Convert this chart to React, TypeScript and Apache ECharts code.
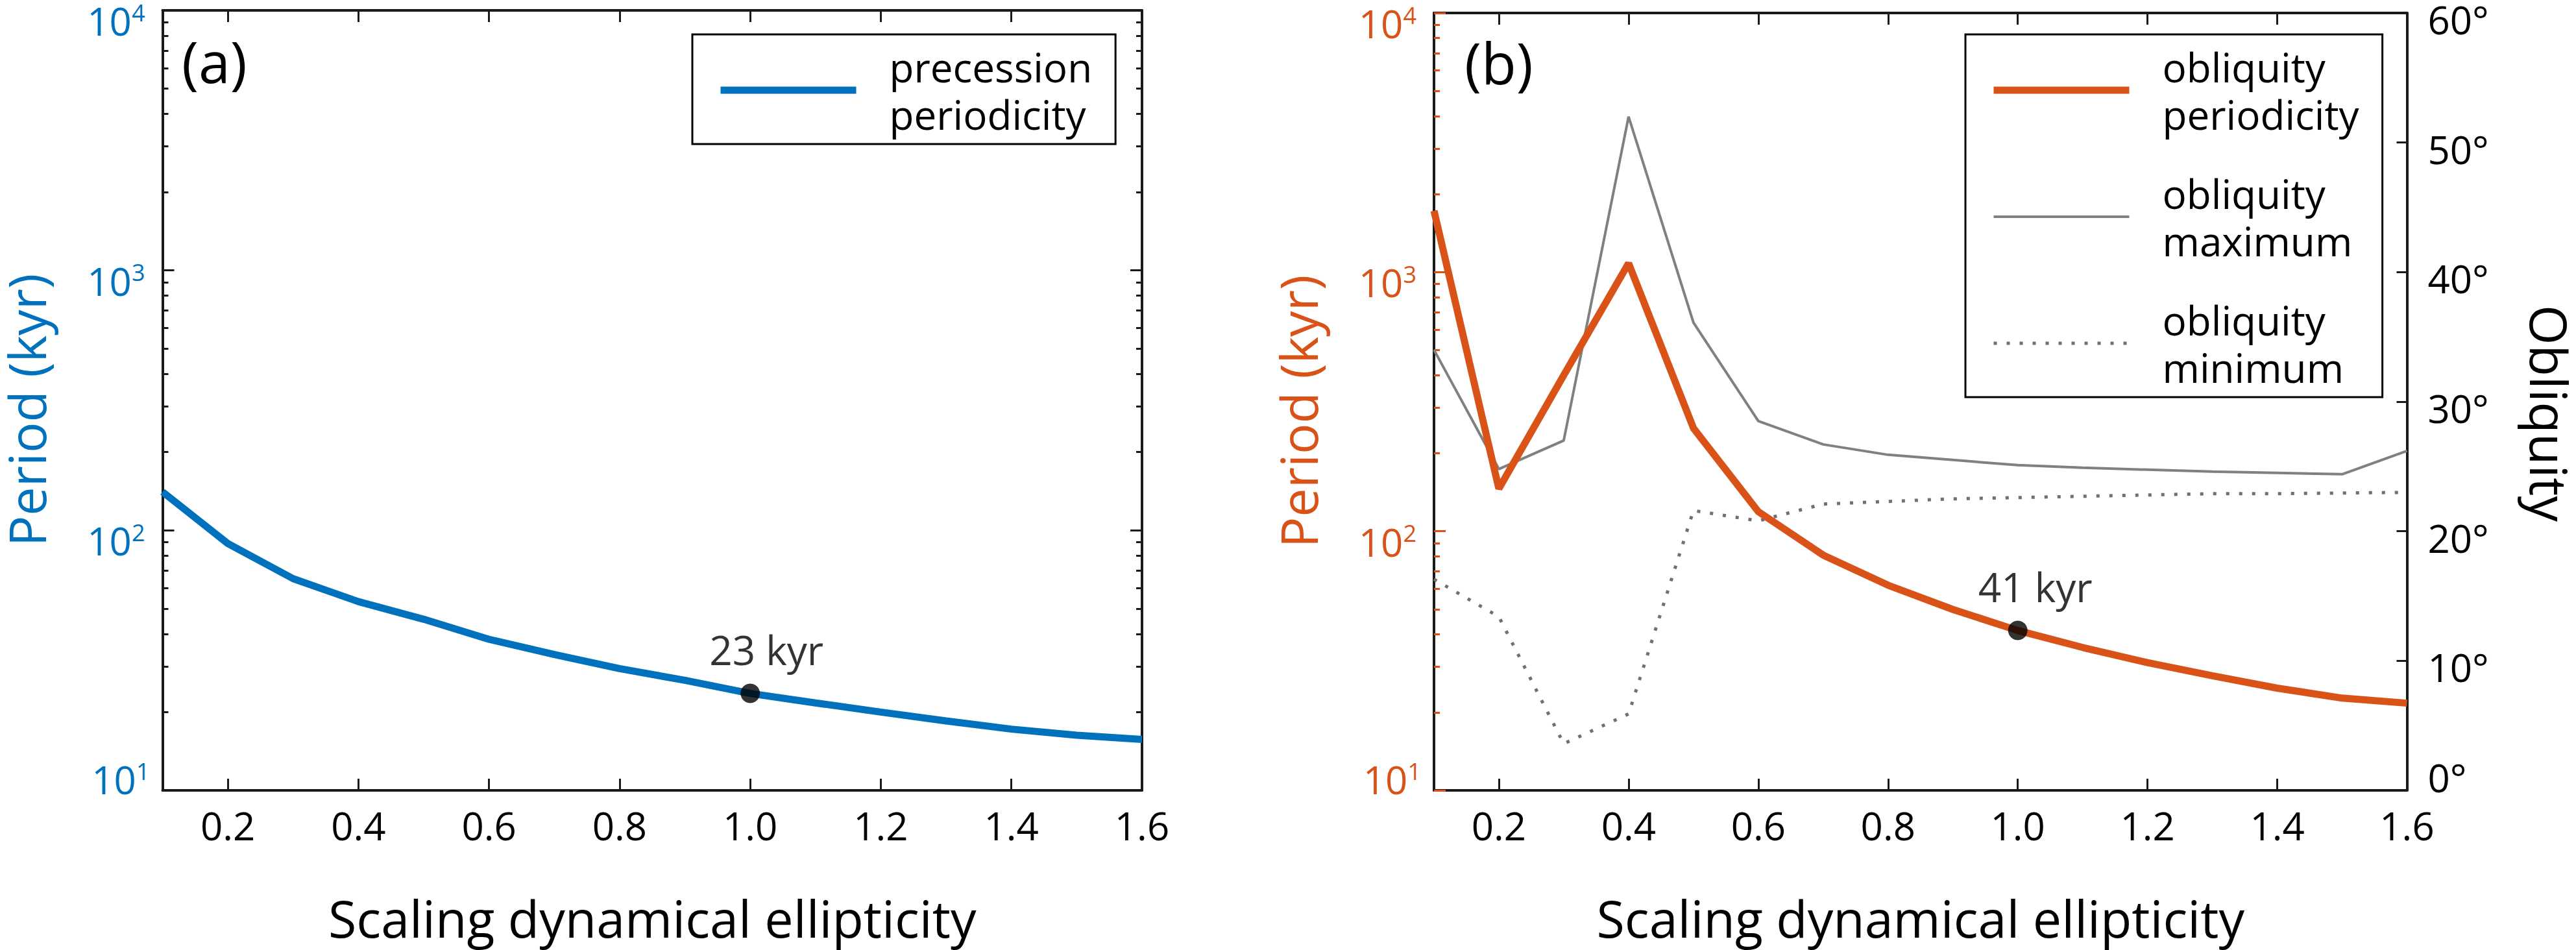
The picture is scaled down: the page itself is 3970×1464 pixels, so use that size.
import React, { useEffect, useRef } from 'react';
import * as echarts from 'echarts';

// ---- data ----
const ellipticity = [0.1, 0.2, 0.3, 0.4, 0.5, 0.6, 0.7, 0.8, 0.9, 1.0, 1.1, 1.2, 1.3, 1.4, 1.5, 1.6];
const precessionPeriod = [140.6, 89.0, 65.2, 53.2, 45.5, 38.1, 33.3, 29.4, 26.5, 23.6, 21.7, 20.0, 18.5, 17.2, 16.3, 15.7];
const obliquityPeriod = [1726, 146, 400, 1081, 250, 119, 80.9, 61.9, 49.9, 41.4, 35.6, 31.1, 27.7, 24.8, 22.7, 21.7];
const obliquityMax = [34.0, 24.8, 27.0, 52.0, 36.1, 28.5, 26.7, 25.9, 25.5, 25.1, 24.9, 24.75, 24.6, 24.5, 24.4, 26.2];
const obliquityMin = [16.3, 13.4, 3.6, 5.9, 21.6, 20.8, 22.1, 22.3, 22.5, 22.6, 22.7, 22.8, 22.9, 22.9, 22.95, 23.0];

const precessionMarker = [1.0, 23.6];
const obliquityMarker = [1.0, 41.4];
const markerTexts = ['23 kyr', '41 kyr'];

const xTicks = [0.2, 0.4, 0.6, 0.8, 1.0, 1.2, 1.4, 1.6];
const periodMajorTicks = [10, 100, 1000, 10000];
const periodMajorLabels = [100, 1000, 10000];
const periodBottomLabel = [10];
const periodMinorTicks = [20, 30, 40, 50, 60, 70, 80, 90, 200, 300, 400, 500, 600, 700, 800, 900, 2000, 3000, 4000, 5000, 6000, 7000, 8000, 9000];
const obliquityLabels = [10, 20, 30, 40, 50, 60];
const obliquityBottomLabel = [0];

const seriesNames = ['precession\nperiodicity', 'obliquity\nperiodicity', 'obliquity\nmaximum', 'obliquity\nminimum'];
const panelLabels = ['(a)', '(b)'];
const xName = 'Scaling dynamical ellipticity';
const yName = 'Period (kyr)';
const y2Name = 'Obliquity';

// ---- styles ----
const FONT = '"Open Sans", "Noto Sans", sans-serif';
const BLUE = '#0072BD';
const ORANGE = '#D95319';
const AXIS = '#1a1a1a';
const GRAY = '#808080';
const DOT = '#707070';

const pairs = (ys: number[]) => ellipticity.map((x, i) => [x, ys[i]]);

const powerLabel = (v: number) => `{b|10}{s|${Math.round(Math.log10(v))}}`;
const richPow = (color: string) => ({
  b: { fontSize: 60, lineHeight: 62, fontFamily: FONT, color },
  s: { fontSize: 36, verticalAlign: 'top', fontFamily: FONT, color },
});

function bottomX(gridIndex: number) {
  return {
    type: 'value', gridIndex, position: 'bottom', min: 0.1, max: 1.6,
    name: xName, nameLocation: 'middle', nameGap: 166,
    nameTextStyle: { fontSize: 79, lineHeight: 60, fontFamily: FONT, color: '#000' },
    axisLine: { show: true, onZero: false, lineStyle: { color: AXIS, width: 4 } },
    axisTick: { show: true, inside: true, length: 18, customValues: xTicks, lineStyle: { color: AXIS, width: 3 } },
    axisLabel: { show: true, customValues: xTicks, formatter: (v: number) => v.toFixed(1), margin: 24, fontSize: 60, fontFamily: FONT, color: '#000' },
    splitLine: { show: false },
  };
}
function topX(gridIndex: number) {
  return {
    type: 'value', gridIndex, position: 'top', min: 0.1, max: 1.6,
    axisLine: { show: true, onZero: false, lineStyle: { color: AXIS, width: 4 } },
    axisTick: { show: true, inside: true, length: 18, customValues: xTicks, lineStyle: { color: AXIS, width: 3 } },
    axisLabel: { show: false },
    splitLine: { show: false },
  };
}
function periodMajor(gridIndex: number, position: string, color: string, tickColor: string, withLabels: boolean) {
  return {
    type: 'log', logBase: 10, gridIndex, position, min: 10, max: 10000,
    name: withLabels ? yName : '', nameLocation: 'middle', nameGap: 180, nameRotate: 90,
    nameTextStyle: { fontSize: 79, lineHeight: 60, fontFamily: FONT, color, padding: [0, 30, 0, 0] },
    axisLine: { show: true, onZero: false, lineStyle: { color: AXIS, width: 4 } },
    axisTick: { show: true, inside: true, length: 18, customValues: periodMajorTicks, lineStyle: { color: tickColor, width: 3 } },
    axisLabel: withLabels
      ? { show: true, customValues: periodMajorLabels, formatter: powerLabel, margin: 27, verticalAlign: 'middle', padding: [32, 0, 0, 0], fontFamily: FONT, rich: richPow(color) }
      : { show: false },
    splitLine: { show: false },
  };
}
function periodMinor(gridIndex: number, position: string, color: string, tickColor: string, withLabels: boolean) {
  return {
    type: 'log', logBase: 10, gridIndex, position, min: 10, max: 10000,
    axisLine: { show: false },
    axisTick: { show: true, inside: true, length: 9, customValues: periodMinorTicks, lineStyle: { color: tickColor, width: 3 } },
    axisLabel: withLabels
      ? { show: true, customValues: periodBottomLabel, formatter: powerLabel, margin: 20, verticalAlign: 'middle', padding: [0, 0, 34, 0], fontFamily: FONT, rich: richPow(color) }
      : { show: false },
    splitLine: { show: false },
  };
}

const legendCommon = {
  orient: 'vertical', top: 53,
  itemWidth: 209, itemHeight: 14, itemGap: 49, padding: [13, 36, 10, 38],
  borderColor: '#000', borderWidth: 3, backgroundColor: '#fff', selectedMode: false,
  textStyle: { fontSize: 62, lineHeight: 73, fontFamily: FONT, color: '#000', padding: [0, 0, 0, 46] },
  lineStyle: { width: 'inherit' },
  itemStyle: { opacity: 0, borderWidth: 0 },
};

const option = {
  animation: false,
  backgroundColor: '#fff',
  grid: [
    { left: 243, top: 16, width: 1517, height: 1202, show: false },
    { left: 2210, top: 16, width: 1509, height: 1202, show: false },
  ],
  xAxis: [bottomX(0), topX(0), bottomX(1), topX(1)],
  yAxis: [
    periodMajor(0, 'left', BLUE, AXIS, true),
    periodMinor(0, 'left', BLUE, AXIS, true),
    periodMajor(0, 'right', BLUE, AXIS, false),
    periodMinor(0, 'right', BLUE, AXIS, false),
    periodMajor(1, 'left', ORANGE, ORANGE, true),
    periodMinor(1, 'left', ORANGE, ORANGE, true),
    {
      type: 'value', gridIndex: 1, position: 'right', min: 0, max: 60, interval: 10,
      name: y2Name, nameLocation: 'middle', nameGap: 190, nameRotate: -90,
      nameTextStyle: { fontSize: 79, lineHeight: 60, fontFamily: FONT, color: '#000', padding: [0, 0, 0, 36] },
      axisLine: { show: true, onZero: false, lineStyle: { color: AXIS, width: 4 } },
      axisTick: { show: true, inside: true, length: 16, lineStyle: { color: AXIS, width: 3 } },
      axisLabel: { show: true, customValues: obliquityLabels, formatter: (v: number) => `${v}°`, margin: 32, fontSize: 60, lineHeight: 20, verticalAlign: 'top', fontFamily: FONT, color: '#000' },
      splitLine: { show: false },
    },
    {
      type: 'value', gridIndex: 1, position: 'right', min: 0, max: 60, interval: 10,
      axisLine: { show: false }, axisTick: { show: false },
      axisLabel: { show: true, customValues: obliquityBottomLabel, formatter: (v: number) => `${v}°`, margin: 32, fontSize: 60, lineHeight: 40, verticalAlign: 'bottom', fontFamily: FONT, color: '#000' },
      splitLine: { show: false },
    },
  ],
  legend: [
    { ...legendCommon, data: [seriesNames[0]], left: 1067 },
    { ...legendCommon, data: [seriesNames[1], seriesNames[2], seriesNames[3]], left: 3029 },
  ],
  graphic: [
    { type: 'text', x: 280, y: 94, style: { text: panelLabels[0], fontSize: 88, fontFamily: FONT, fill: '#000', align: 'left', verticalAlign: 'middle' } },
    { type: 'text', x: 2257, y: 96, style: { text: panelLabels[1], fontSize: 88, fontFamily: FONT, fill: '#000', align: 'left', verticalAlign: 'middle' } },
  ],
  series: [
    {
      type: 'line', name: seriesNames[0], xAxisIndex: 0, yAxisIndex: 0, data: pairs(precessionPeriod),
      symbol: 'none', lineStyle: { color: BLUE, width: 11 }, itemStyle: { color: BLUE }, z: 3,
    },
    {
      type: 'scatter', xAxisIndex: 0, yAxisIndex: 0, data: [precessionMarker], symbolSize: 30,
      itemStyle: { color: '#000' }, z: 5,
      label: { show: true, formatter: markerTexts[0], position: 'top', distance: 22, offset: [25, 0], fontSize: 62, fontFamily: FONT, color: '#000' },
    },
    {
      type: 'line', name: seriesNames[2], xAxisIndex: 2, yAxisIndex: 6, data: pairs(obliquityMax),
      symbol: 'none', lineStyle: { color: GRAY, width: 4 }, itemStyle: { color: GRAY }, z: 2,
    },
    {
      type: 'line', name: seriesNames[3], xAxisIndex: 2, yAxisIndex: 6, data: pairs(obliquityMin),
      symbol: 'none', lineStyle: { color: DOT, width: 5, type: [5, 15] }, itemStyle: { color: DOT }, z: 2,
    },
    {
      type: 'line', name: seriesNames[1], xAxisIndex: 2, yAxisIndex: 4, data: pairs(obliquityPeriod),
      symbol: 'none', lineStyle: { color: ORANGE, width: 11 }, itemStyle: { color: ORANGE }, z: 3,
    },
    {
      type: 'scatter', xAxisIndex: 2, yAxisIndex: 4, data: [obliquityMarker], symbolSize: 30,
      itemStyle: { color: '#000' }, z: 5,
      label: { show: true, formatter: markerTexts[1], position: 'top', distance: 22, offset: [27, 0], fontSize: 62, fontFamily: FONT, color: '#000' },
    },
  ],
};

export default function App() {
  const ref = useRef<HTMLDivElement>(null);
  useEffect(() => {
    if (!ref.current) return;
    const chart = echarts.init(ref.current, undefined, { renderer: 'svg' });
    chart.setOption(option as any);
    return () => chart.dispose();
  }, []);
  return <div ref={ref} style={{ position: 'absolute', left: 0, top: 0, width: 3970, height: 1464 }} />;
}
